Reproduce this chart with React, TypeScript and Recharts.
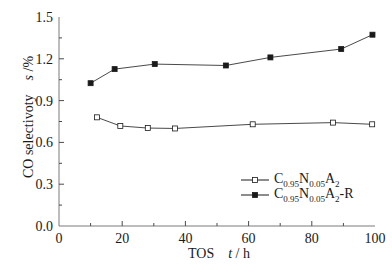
import React from "react";
import { LineChart, Line, XAxis, YAxis, Label } from "recharts";

// TOS (h) and CO selectivity (%)
const tosPlain = [12, 19.4, 28.1, 36.7, 61.3, 86.7, 99.1];
const selPlain = [0.78, 0.718, 0.703, 0.7, 0.73, 0.742, 0.73];
const tosR = [10, 17.6, 30.3, 52.8, 66.9, 89.3, 99.2];
const selR = [1.025, 1.126, 1.162, 1.152, 1.21, 1.27, 1.373];

const xTicks = [0, 10, 20, 30, 40, 50, 60, 70, 80, 90, 100];
const xLabels = [0, 20, 40, 60, 80, 100];
const yTicks = [0, 0.15, 0.3, 0.45, 0.6, 0.75, 0.9, 1.05, 1.2, 1.35, 1.5];
const yLabels = [0, 0.3, 0.6, 0.9, 1.2, 1.5];

const plainData = tosPlain.map((t, i) => ({ t, s: selPlain[i] }));
const rData = tosR.map((t, i) => ({ t, s: selR[i] }));

const FONT = "'Liberation Serif', 'Times New Roman', serif";
const AXIS = "#7a7a7a";
const INK = "#1a1a1a";

// ticks point inward, majors longer than minors
function XTick(props: any) {
	const { x, y, payload } = props;
	const v = Number(payload.value);
	const major = xLabels.includes(v);
	const len = major ? 5 : 3;
	return (
		<g>
			{v !== 0 && v !== 100 && (
				<path d={`M${x},${y}V${y - len}`} stroke="#4a4a4a" strokeWidth={1} fill="none" />
			)}
			{major && (
				<text x={x} y={y + 17} textAnchor="middle" fontSize={14} fill={INK} fontFamily={FONT}>
					{v}
				</text>
			)}
		</g>
	);
}

function YTick(props: any) {
	const { x, y, payload } = props;
	const v = Number(payload.value);
	const major = yLabels.some((l) => Math.abs(l - v) < 1e-6);
	const len = major ? 5 : 3;
	return (
		<g>
			{v !== 0 && v !== 1.5 && (
				<path d={`M${x},${y}H${x + len}`} stroke="#4a4a4a" strokeWidth={1} fill="none" />
			)}
			{major && (
				<text x={x - 6} y={y + 5} textAnchor="end" fontSize={14} fill={INK} fontFamily={FONT}>
					{v.toFixed(1)}
				</text>
			)}
		</g>
	);
}

function Square(props: any) {
	const { cx, cy, filled } = props;
	if (cx == null || cy == null) return null;
	return (
		<rect
			x={cx - 2.5}
			y={cy - 2.5}
			width={5}
			height={5}
			fill={filled ? INK : "#fff"}
			stroke={INK}
			strokeWidth={0.8}
		/>
	);
}

function Formula({ r }: { r?: boolean }) {
	const sub = { fontSize: 9, position: "relative", top: 4 } as const;
	return (
		<span>
			C<span style={sub}>0.95</span>N<span style={sub}>0.05</span>A<span style={sub}>2</span>
			{r ? "-R" : ""}
		</span>
	);
}

function LegendBox() {
	const row = (filled: boolean) => (
		<div style={{ display: "flex", alignItems: "center", height: 15, lineHeight: "15px" }}>
			<svg width={30} height={10}>
				<line x1={0} x2={28} y1={5} y2={5} stroke={INK} />
				<rect x={11.5} y={2.5} width={5} height={5} fill={filled ? INK : "#fff"} stroke={INK} strokeWidth={0.8} />
			</svg>
			<span style={{ marginLeft: 3, fontSize: 14, fontFamily: FONT, color: INK, whiteSpace: "nowrap" }}>
				<Formula r={filled} />
			</span>
		</div>
	);
	return (
		<div style={{ position: "absolute", left: 241, top: 172 }}>
			{row(false)}
			{row(true)}
		</div>
	);
}

function YLabel() {
	const cx = 28;
	const cy = 117;
	return (
		<text
			transform={`rotate(-90 ${cx} ${cy})`}
			x={cx}
			y={cy + 5}
			textAnchor="middle"
			fontSize={14}
			fill={INK}
			fontFamily={FONT}
		>
			CO selectivoty{"\u00a0\u00a0\u00a0\u00a0"}
			<tspan fontStyle="italic">s</tspan> /%
		</text>
	);
}

export default function App() {
	return (
		<div style={{ position: "fixed", left: 0, top: 0, width: 392, height: 270, background: "#fff" }}>
			<LineChart width={392} height={270} margin={{ top: 17, right: 17, bottom: 0, left: 0 }}>
				<XAxis
					dataKey="t"
					type="number"
					domain={[0, 100]}
					ticks={xTicks}
					interval={0}
					allowDuplicatedCategory={false}
					stroke={AXIS}
					tickLine={false}
					tickSize={0}
					tickMargin={0}
					tick={(p: any) => <XTick {...p} />}
					height={44}
				>
					<Label
						content={() => (
							<text x={219} y={258} textAnchor="middle" fontSize={14} fill={INK} fontFamily={FONT}>
								TOS{"\u00a0\u00a0\u00a0\u00a0"}
								<tspan fontStyle="italic">t</tspan> / h
							</text>
						)}
					/>
				</XAxis>
				<XAxis
					xAxisId="top"
					orientation="top"
					type="number"
					domain={[0, 100]}
					height={0}
					tick={false}
					tickLine={false}
					stroke={AXIS}
				/>
				<YAxis
					type="number"
					domain={[0, 1.5]}
					ticks={yTicks}
					interval={0}
					stroke={AXIS}
					tickLine={false}
					tickSize={0}
					tickMargin={0}
					tick={(p: any) => <YTick {...p} />}
					width={59}
				>
					<Label content={<YLabel />} />
				</YAxis>
				<YAxis
					yAxisId="right"
					orientation="right"
					type="number"
					domain={[0, 1.5]}
					width={0}
					tick={false}
					tickLine={false}
					stroke={AXIS}
				/>
				<Line
					data={plainData}
					dataKey="s"
					stroke={INK}
					strokeWidth={0.8}
					dot={<Square filled={false} />}
					isAnimationActive={false}
				/>
				<Line
					data={rData}
					dataKey="s"
					stroke={INK}
					strokeWidth={0.8}
					dot={<Square filled />}
					isAnimationActive={false}
				/>
			</LineChart>
			<LegendBox />
		</div>
	);
}
